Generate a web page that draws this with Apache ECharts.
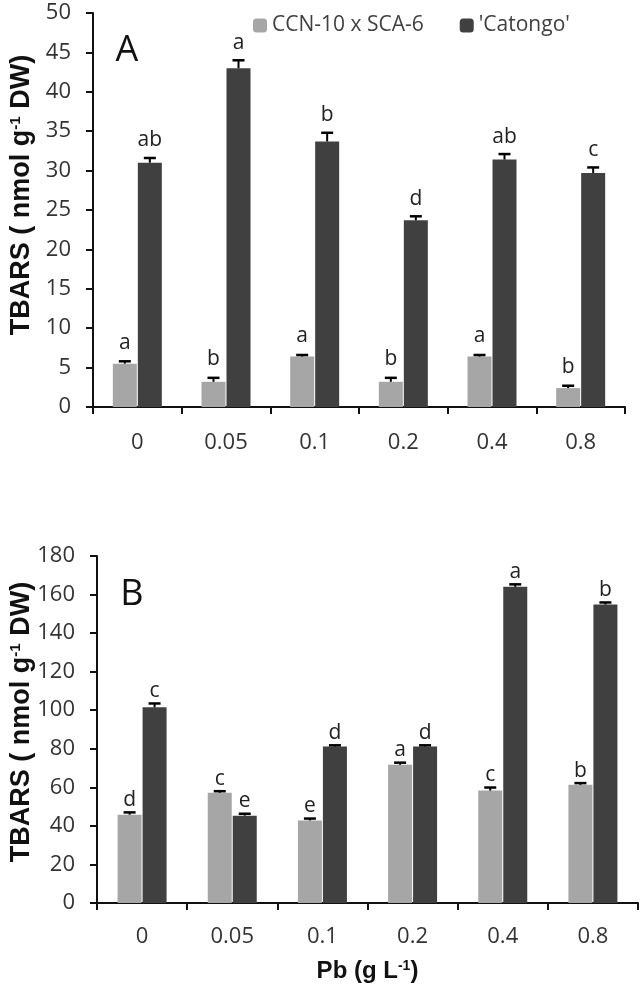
<!DOCTYPE html>
<html>
<head>
<meta charset="utf-8">
<script src="https://cdn.jsdelivr.net/npm/echarts@6/dist/echarts.min.js"></script>
<style>
html,body{margin:0;padding:0;background:#fff;}
#c{width:641px;height:989px;}
</style>
</head>
<body>
<div id="c"></div>
<script>
// ---------- DATA ----------
const categories = ['0', '0.05', '0.1', '0.2', '0.4', '0.8'];
const seriesNames = ['CCN-10 x SCA-6', "'Catongo'"];

// Panel A : TBARS (nmol g-1 DW)
const A_ccn      = [5.5, 3.2, 6.4, 3.2, 6.4, 2.4];
const A_ccnErr   = [0.3, 0.5, 0.2, 0.5, 0.2, 0.3];
const A_ccnLet   = ['a', 'b', 'a', 'b', 'a', 'b'];
const A_cat      = [31.0, 43.0, 33.7, 23.7, 31.4, 29.7];
const A_catErr   = [0.6, 1.0, 1.1, 0.5, 0.7, 0.7];
const A_catLet   = ['ab', 'a', 'b', 'd', 'ab', 'c'];

// Panel B
const B_ccn      = [45.8, 57.2, 42.8, 71.7, 58.3, 61.3];
const B_ccnErr   = [1.2, 0.8, 1.0, 1.1, 1.6, 0.9];
const B_ccnLet   = ['d', 'c', 'e', 'a', 'c', 'b'];
const B_cat      = [101.5, 45.3, 81.2, 81.2, 164.0, 154.8];
const B_catErr   = [2.0, 1.0, 0.6, 0.6, 1.3, 1.1];
const B_catLet   = ['c', 'e', 'd', 'd', 'a', 'b'];

const A_ticks = {min: 0, max: 50, interval: 5};
const B_ticks = {min: 0, max: 180, interval: 20};

// ---------- STYLE ----------
const FONT = "'Open Sans', 'Liberation Sans', sans-serif";
const BOLD = "'Liberation Sans', Arial, sans-serif";
const GRAY = '#a6a6a6';
const DARK = '#404040';
const TXT = '#333333';
const BAR_W = 24;
const BAR_GAP_PX = 1;
const OFF = (BAR_W + BAR_GAP_PX) / 2;
const CAP = 12;

const chart = echarts.init(document.getElementById('c'), null, {renderer: 'canvas'});

function errSeries(vals, errs, lets, sign, gi, gap) {
  return {
    type: 'custom',
    xAxisIndex: gi, yAxisIndex: gi,
    silent: true,
    z: 5,
    data: categories.map((c, i) => [i, vals[i], errs[i]]),
    encode: {x: 0, y: 1},
    renderItem: function (params, api) {
      const i = api.value(0), v = api.value(1), e = api.value(2);
      const p0 = api.coord([i, v]);
      const p1 = api.coord([i, v + e]);
      const cx = p0[0] + sign * OFF;
      return {
        type: 'group',
        children: [
          {type: 'line', shape: {x1: cx, y1: p0[1], x2: cx, y2: p1[1]}, style: {stroke: '#000', lineWidth: 2}},
          {type: 'line', shape: {x1: cx - CAP / 2, y1: p1[1], x2: cx + CAP / 2, y2: p1[1]}, style: {stroke: '#000', lineWidth: 2.5}},
          {type: 'text', x: cx, y: p1[1] - gap,
           style: {text: lets[params.dataIndex], align: 'center', verticalAlign: 'bottom',
                   font: '21px ' + FONT, fill: '#222'}}
        ]
      };
    }
  };
}

function xAxisDef(gi, withName, margin) {
  const ax = {
    type: 'category', gridIndex: gi, data: categories,
    axisLine: {lineStyle: {color: '#111', width: 2}},
    axisTick: {show: true, length: 7, alignWithLabel: false, lineStyle: {color: '#111', width: 2}},
    axisLabel: {margin: margin, fontFamily: FONT, fontSize: 22, color: TXT},
    splitLine: {show: false}
  };
  if (withName) {
    ax.name = '{a|Pb (g L}{s|-1}{a|)}';
    ax.nameLocation = 'middle';
    ax.nameGap = 56;
    ax.nameTextStyle = {
      rich: {
        a: {fontFamily: BOLD, fontWeight: 'bold', fontSize: 24, color: '#111'},
        s: {fontFamily: BOLD, fontWeight: 'bold', fontSize: 14, color: '#111', verticalAlign: 'top', padding: [0, 0, 10, 0]}
      }
    };
  }
  return ax;
}

function yAxisDef(gi, t) {
  return {
    type: 'value', gridIndex: gi, min: t.min, max: t.max, interval: t.interval,
    axisLine: {show: true, lineStyle: {color: '#111', width: 2}},
    axisTick: {show: true, length: 7, lineStyle: {color: '#111', width: 2}},
    axisLabel: {margin: 22, fontFamily: FONT, fontSize: 22, color: TXT},
    splitLine: {show: false}
  };
}

function barSeries(name, data, color, gi) {
  return {
    name: name, type: 'bar', xAxisIndex: gi, yAxisIndex: gi,
    data: data, barWidth: BAR_W, barGap: (BAR_GAP_PX / BAR_W * 100) + '%',
    itemStyle: {color: color}, silent: true
  };
}

const yTitleRich = {
  a: {fontFamily: BOLD, fontWeight: 'bold', fontSize: 27, fill: '#111'},
  s: {fontFamily: BOLD, fontWeight: 'bold', fontSize: 15, fill: '#111', verticalAlign: 'top', padding: [0, 0, 11, 0]}
};

const option = {
  backgroundColor: '#fff',
  animation: false,
  legend: {
    data: seriesNames,
    left: 248, top: 10,
    itemWidth: 14, itemHeight: 14, itemGap: 36,
    textStyle: {fontFamily: FONT, fontSize: 21, color: DARK},
    selectedMode: false
  },
  grid: [
    {left: 93, right: 16, top: 13, bottom: 582, containLabel: false},
    {left: 97, right: 3, top: 556, bottom: 86, containLabel: false}
  ],
  xAxis: [xAxisDef(0, false, 25), xAxisDef(1, true, 23)],
  yAxis: [yAxisDef(0, A_ticks), yAxisDef(1, B_ticks)],
  series: [
    barSeries(seriesNames[0], A_ccn, GRAY, 0),
    barSeries(seriesNames[1], A_cat, DARK, 0),
    barSeries(seriesNames[0], B_ccn, GRAY, 1),
    barSeries(seriesNames[1], B_cat, DARK, 1),
    errSeries(A_ccn, A_ccnErr, A_ccnLet, -1, 0, 8),
    errSeries(A_cat, A_catErr, A_catLet, 1, 0, 7),
    errSeries(B_ccn, B_ccnErr, B_ccnLet, -1, 1, 2),
    errSeries(B_cat, B_catErr, B_catLet, 1, 1, 2)
  ],
  graphic: [
    {type: 'text', x: 127, y: 51, style: {text: 'A', font: '36px ' + FONT, fill: '#111', align: 'center', verticalAlign: 'middle'}},
    {type: 'text', x: 132, y: 595, style: {text: 'B', font: '36px ' + FONT, fill: '#111', align: 'center', verticalAlign: 'middle'}},
    {type: 'text', x: 22, y: 195, rotation: Math.PI / 2,
     style: {text: '{a|TBARS ( nmol g}{s|-1}{a| DW)}', rich: yTitleRich, align: 'center', verticalAlign: 'middle'}},
    {type: 'text', x: 22, y: 722, rotation: Math.PI / 2,
     style: {text: '{a|TBARS ( nmol g}{s|-1}{a| DW)}', rich: yTitleRich, align: 'center', verticalAlign: 'middle'}}
  ]
};

chart.setOption(option);
</script>
</body>
</html>
